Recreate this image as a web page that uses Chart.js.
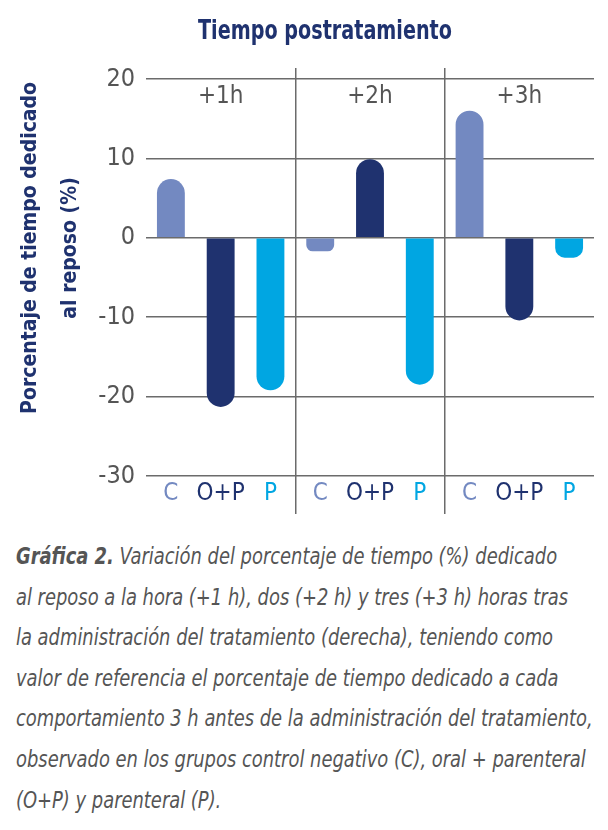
<!DOCTYPE html>
<html>
<head>
<meta charset="utf-8">
<script src="https://cdn.jsdelivr.net/npm/chart.js@4"></script>
<style>
    body { margin: 0; background: #fff; }
    #contenedor { position: relative; width: 608px; height: 830px; overflow: hidden; }
    #titulo {
        position: absolute; left: 0; top: 14px; width: 650px; text-align: center;
        font-family: 'DejaVu Sans Condensed', 'DejaVu Sans', sans-serif;
        font-weight: bold; font-size: 27px; line-height: 32px; color: #1f326f;
        transform: scaleX(0.79); transform-origin: 325px 0;
    }
    #grafico { position: absolute; left: 0; top: 0; }
    #pie {
        position: absolute; left: 16px; top: 536px; white-space: nowrap;
        font-family: 'DejaVu Sans Condensed', 'DejaVu Sans', sans-serif;
        font-style: italic; font-size: 23px; line-height: 40.6px; color: #555;
        transform: scaleX(0.865); transform-origin: 0 0;
    }
</style>
</head>
<body>
<div id="contenedor">
    <canvas id="grafico" width="608" height="520"></canvas>
    <div id="titulo">Tiempo postratamiento</div>
    <div id="pie"><b>Gráfica 2.</b> Variación del porcentaje de tiempo (%) dedicado<br>al reposo a la hora (+1 h), dos (+2 h) y tres (+3 h) horas tras<br>la administración del tratamiento (derecha), teniendo como<br>valor de referencia el porcentaje de tiempo dedicado a cada<br>comportamiento 3 h antes de la administración del tratamiento,<br>observado en los grupos control negativo (C), oral + parenteral<br>(O+P) y parenteral (P).</div>
</div>
<script>
var etiquetasGrupo = ['+1h', '+2h', '+3h'];
var tratamientos = ['C', 'O+P', 'P'];
var valoresC = [7.4, -1.7, 16.0];
var valoresOP = [-21.3, 9.9, -10.4];
var valoresP = [-19.2, -18.5, -2.5];
var ticksY = [20, 10, 0, -10, -20, -30];
var tituloY = ['Porcentaje de tiempo dedicado', 'al reposo (%)'];

var colores = ['#7389c1', '#1f326f', '#00a6e2'];
var fuente = "'DejaVu Sans Condensed', 'DejaVu Sans', sans-serif";
var gris = '#6b6b6b';

// etiquetas de abajo: C, O+P, P por cada grupo
var etiquetasBarra = [];
etiquetasGrupo.forEach(function () {
    tratamientos.forEach(function (t) { etiquetasBarra.push(t); });
});

function lineaGrupo(ctx) {
    return (ctx.index === 3 || ctx.index === 6) ? gris : 'rgba(0,0,0,0)';
}

// espacios delante para subir un poco el titulo del eje
var sangria = '         ';

var ctx = document.getElementById('grafico');

var myChart = new Chart(ctx, {
    type: 'bar',
    data: {
        labels: etiquetasGrupo,
        datasets: [{
            label: tratamientos[0],
            data: valoresC,
            backgroundColor: colores[0]
        }, {
            label: tratamientos[1],
            data: valoresOP,
            backgroundColor: colores[1]
        }, {
            label: tratamientos[2],
            data: valoresP,
            backgroundColor: colores[2]
        }]
    },
    options: {
        responsive: false,
        animation: false,
        layout: { padding: { top: 68, right: 14, left: 0, bottom: 0 } },
        datasets: {
            bar: {
                barPercentage: 0.56,
                categoryPercentage: 1,
                borderRadius: 14,
                borderSkipped: 'start'
            }
        },
        plugins: {
            legend: { display: false },
            tooltip: { enabled: false },
            title: { display: false }
        },
        scales: {
            x: {
                position: 'top',
                offset: true,
                border: { display: false },
                grid: {
                    offset: true,
                    color: function (c) {
                        return (c.index === 1 || c.index === 2) ? gris : 'rgba(0,0,0,0)';
                    },
                    lineWidth: 1.5,
                    tickLength: 11
                },
                ticks: {
                    color: '#555',
                    font: { family: fuente, size: 24 },
                    mirror: true,
                    padding: 3,
                    maxRotation: 0,
                    autoSkip: false
                },
                afterFit: function (escala) { escala.height = 11; }
            },
            x2: {
                type: 'category',
                labels: etiquetasBarra,
                position: 'bottom',
                offset: true,
                border: { display: false },
                grid: {
                    offset: true,
                    drawOnChartArea: false,
                    color: lineaGrupo,
                    lineWidth: 1.5,
                    tickLength: 38
                },
                ticks: {
                    color: function (c) { return colores[c.index % 3]; },
                    font: { family: fuente, size: 24 },
                    padding: -35,
                    maxRotation: 0,
                    autoSkip: false
                },
                afterFit: function (escala) { escala.height = 44; }
            },
            y: {
                min: ticksY[ticksY.length - 1],
                max: ticksY[0],
                border: { display: false },
                grid: {
                    color: gris,
                    lineWidth: 1.5,
                    drawTicks: false
                },
                afterBuildTicks: function (escala) {
                    escala.ticks = ticksY.map(function (v) { return { value: v }; });
                },
                ticks: {
                    color: '#555',
                    font: { family: fuente, size: 25 },
                    padding: 11
                },
                title: {
                    display: true,
                    text: tituloY.map(function (t) { return sangria + t; }),
                    color: '#1f326f',
                    font: { family: fuente, size: 21, weight: 'bold', lineHeight: '40px' },
                    padding: { top: 11, bottom: 0 }
                },
                afterFit: function (escala) { escala.width = 146; }
            }
        }
    }
});
</script>
</body>
</html>
